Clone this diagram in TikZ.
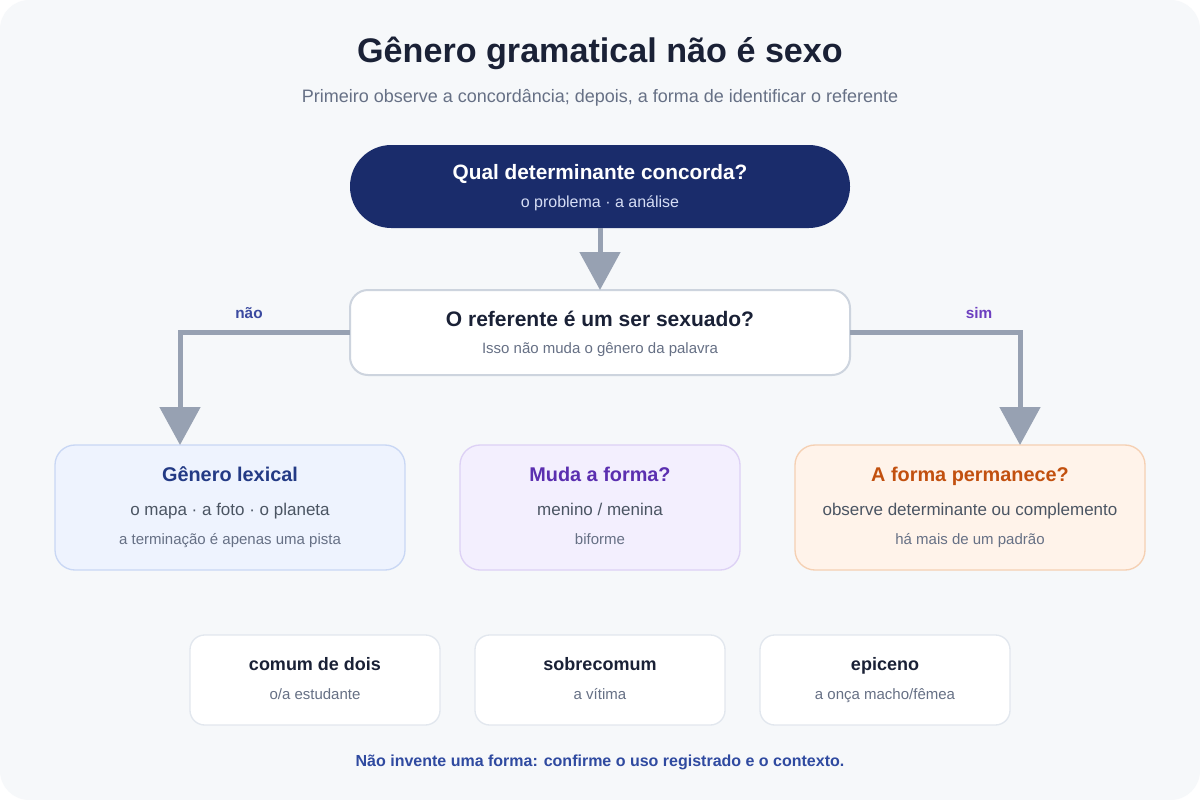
\documentclass[tikz,border=0pt]{standalone}
\usepackage{fontspec}
\setmainfont{Liberation Sans}
\usetikzlibrary{arrows.meta}

\definecolor{pagebg}{HTML}{F6F8FA}
\definecolor{inkdark}{HTML}{1A2136}
\definecolor{inkgray}{HTML}{667085}
\definecolor{inkmid}{HTML}{4B5563}
\definecolor{navy}{HTML}{1A2C6B}
\definecolor{navysub}{HTML}{D5DDF5}
\definecolor{linkgray}{HTML}{97A1B2}
\definecolor{qborder}{HTML}{CDD4DE}
\definecolor{lexfill}{HTML}{EEF3FE}
\definecolor{lexdraw}{HTML}{C9D7F4}
\definecolor{lexink}{HTML}{233A85}
\definecolor{mudafill}{HTML}{F3EFFE}
\definecolor{mudadraw}{HTML}{DDD1F5}
\definecolor{mudaink}{HTML}{5B2FB0}
\definecolor{permfill}{HTML}{FFF3EA}
\definecolor{permdraw}{HTML}{F5D0B3}
\definecolor{permink}{HTML}{C2500F}
\definecolor{smalldraw}{HTML}{E2E7EE}
\definecolor{noink}{HTML}{3B4AA0}
\definecolor{simink}{HTML}{6D3FC0}
\definecolor{footink}{HTML}{2F4AA0}

\begin{document}
\begin{tikzpicture}
  [x=0.75pt,y=-0.75pt,
   every node/.style={inner sep=0pt,outer sep=0pt},
   panel/.style={draw,line width=1pt,rounded corners=15pt,
                 minimum width=262.5pt,minimum height=93.75pt},
   smallbox/.style={draw=smalldraw,fill=white,line width=1pt,rounded corners=11pt,
                    minimum width=187.5pt,minimum height=67.5pt},
   conn/.style={draw=linkgray,line width=3.75pt,
                -{Triangle[width=30pt,length=28.5pt]}},
   head/.style={anchor=mid,font=\bfseries\fontsize{14.9}{17}\selectfont},
   line/.style={anchor=mid,text=inkmid,font=\fontsize{12.75}{15}\selectfont},
   hint/.style={anchor=mid,text=inkgray,font=\fontsize{11.25}{13}\selectfont}]

  % page
  \fill[white] (0,0) rectangle (1200,800);
  \fill[pagebg,rounded corners=22pt] (0,0) rectangle (1200,800);
  \useasboundingbox (0,0) rectangle (1200,800);

  % title
  \node[anchor=mid,text=inkdark,font=\bfseries\fontsize{25.6}{30}\selectfont] (title) at (600,59)
    {Gênero gramatical não é sexo};
  \node[anchor=mid,text=inkgray,font=\fontsize{13.5}{16}\selectfont] (subtitle) at (600,99)
    {Primeiro observe a concordância; depois, a forma de identificar o referente};

  % question nodes
  \node[fill=navy,rounded corners=31pt,minimum width=375pt,minimum height=62.25pt] (top) at (600,186.5) {};
  \node[anchor=mid,text=white,font=\bfseries\fontsize{15.6}{18}\selectfont] at (600,176) {Qual determinante concorda?};
  \node[anchor=mid,text=navysub,font=\fontsize{12}{14}\selectfont] at (600,204) {o problema · a análise};

  \node[draw=qborder,fill=white,line width=1.5pt,rounded corners=13.5pt,
        minimum width=375pt,minimum height=63.75pt] (quest) at (600,332.5) {};
  \node[anchor=mid,text=inkdark,font=\bfseries\fontsize{15.75}{18}\selectfont] at (600,323) {O referente é um ser sexuado?};
  \node[hint] at (600,350) {Isso não muda o gênero da palavra};

  % three outcomes
  \node[panel,draw=lexdraw,fill=lexfill] (lex) at (230,507.5) {};
  \node[head,text=lexink] at (230,478) {Gênero lexical};
  \node[line] at (230,512) {o mapa · a foto · o planeta};
  \node[hint] at (230,541) {a terminação é apenas uma pista};

  \node[panel,draw=mudadraw,fill=mudafill,minimum width=210pt] (muda) at (600,507.5) {};
  \node[head,text=mudaink] at (600,478) {Muda a forma?};
  \node[line] at (600,512) {menino / menina};
  \node[hint] at (600,541) {biforme};

  \node[panel,draw=permdraw,fill=permfill] (perm) at (970,507.5) {};
  \node[head,text=permink] at (970,478) {A forma permanece?};
  \node[line] at (970,512) {observe determinante ou complemento};
  \node[hint] at (970,541) {há mais de um padrão};

  % kinds of fixed form
  \foreach \x/\name/\word/\ex in {315/comum/comum de dois/o\slash a estudante,
                                  600/sobre/sobrecomum/a vítima,
                                  885/epi/epiceno/a onça macho\slash fêmea} {
    \node[smallbox] (\name) at (\x,680) {};
    \node[anchor=mid,text=inkdark,font=\bfseries\fontsize{13.5}{16}\selectfont] at (\x,667) {\word};
    \node[hint] at (\x,696) {\ex};
  }

  % connectors
  \draw[conn] (top) -- (quest);
  \draw[conn] (quest.west) -| ([xshift=-37.5pt]lex.north);
  \draw[conn] (quest.east) -| ([xshift=37.5pt]perm.north);
  \node[anchor=mid,text=noink,font=\bfseries\fontsize{11.5}{13}\selectfont] at (249,315) {não};
  \node[anchor=mid,text=simink,font=\bfseries\fontsize{11.5}{13}\selectfont] at (979,315) {sim};

  % footer
  \node[anchor=mid,text=footink,font=\bfseries\fontsize{12}{14}\selectfont] (foot) at (600,763)
    {Não invente uma forma: confirme o uso registrado e o contexto.};

\end{tikzpicture}
\end{document}
